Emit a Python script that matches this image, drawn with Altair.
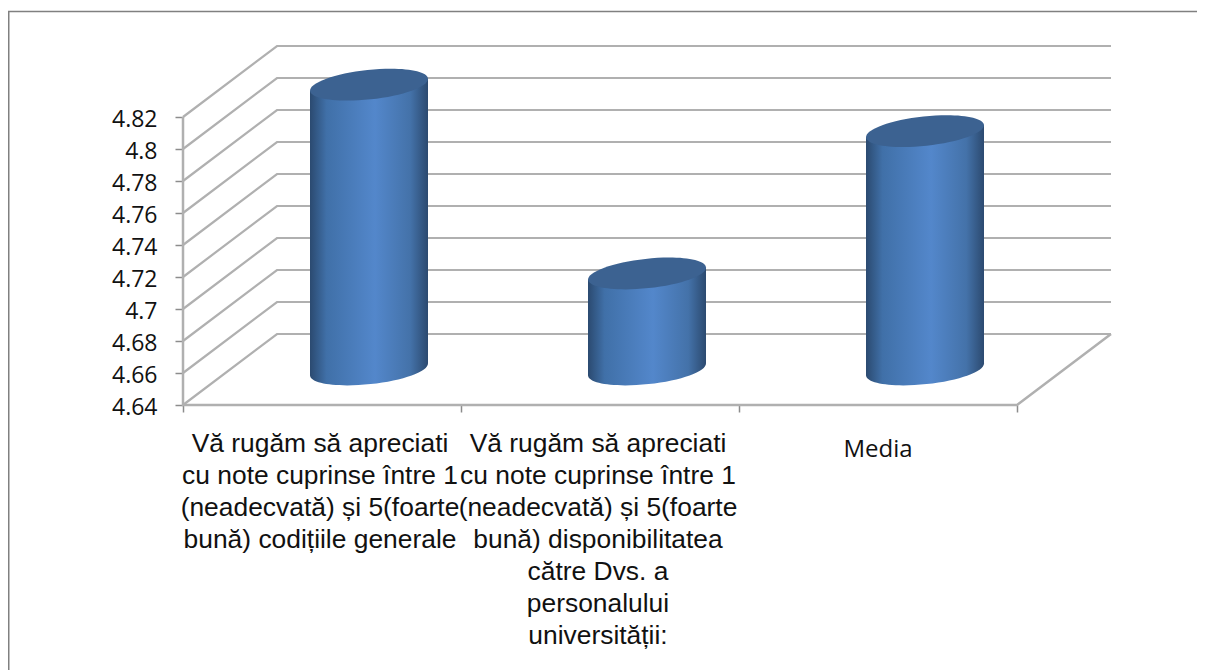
import altair as alt
import pandas as pd

# ---- data
categories = [
    "Vă rugăm să apreciati\ncu note cuprinse între 1\n(neadecvată) și 5(foarte\nbună) codițiile generale",
    "Vă rugăm să apreciati\ncu note cuprinse între 1\n(neadecvată) și 5(foarte\nbună) disponibilitatea\ncătre Dvs. a\npersonalului\nuniversității:",
    "Media",
]
values = [4.818, 4.70, 4.789]
tick_values = [4.64, 4.66, 4.68, 4.70, 4.72, 4.74, 4.76, 4.78, 4.80, 4.82]
category_edges = [0, 1, 2, 3]

# ---- drawing constants
W, H = 1189, 662
BASE = 4.64
PX_X = 278.0           # pixels per category
PX_Y = 1600.0          # pixels per value unit
X0_PX, Y0_PX = 175.0, 397.0
DX = 94.0 / PX_X       # depth offset in x units
DY = 71.0 / PX_Y       # depth offset in value units
HALF_W = 59.0 / PX_X
TILT = 6.0 / PX_Y

x_scale = alt.Scale(domain=[-X0_PX / PX_X, (W - X0_PX) / PX_X], nice=False, zero=False)
y_scale = alt.Scale(domain=[BASE - (H - Y0_PX) / PX_Y, BASE + Y0_PX / PX_Y], nice=False, zero=False)
X = alt.X("x:Q", scale=x_scale)
Y = alt.Y("y:Q", scale=y_scale)
GRID = "#b0b0b0"

# real axes placed on the front edge (first layer, so its axes are the ones kept)
axis_base = alt.Chart(pd.DataFrame({"x": [0.0], "y": [BASE]})).mark_point(opacity=0).encode(
    x=alt.X("x:Q", scale=x_scale, axis=alt.Axis(
        values=category_edges, labels=False, domain=False, grid=False, title=None,
        orient="bottom", offset=-(H - Y0_PX), tickSize=7, tickColor="#8c8c8c", tickWidth=1.5)),
    y=alt.Y("y:Q", scale=y_scale, axis=alt.Axis(
        values=tick_values, format="~g", domain=False, grid=False, title=None,
        orient="left", offset=-X0_PX, tickSize=8, tickColor="#8c8c8c", tickWidth=1.5,
        labelFont="Open Sans", labelFontSize=23, labelColor="#111111", labelPadding=18, labelOffset=2)),
)

# wall / back grid lines
grid_rows = []
for v in tick_values:
    grid_rows += [
        {"g": v, "o": 0, "x": 0, "y": v},
        {"g": v, "o": 1, "x": DX, "y": v + DY},
        {"g": v, "o": 2, "x": 3 + DX, "y": v + DY},
    ]
grid = alt.Chart(pd.DataFrame(grid_rows)).mark_line(color=GRID, strokeWidth=2.2).encode(
    x=X, y=Y, detail="g:N", order="o:Q")

# frame of the floor and the front wall edge
frame_rows = [
    {"x": 0, "y": tick_values[-1]},
    {"x": 0, "y": BASE},
    {"x": 3, "y": BASE},
    {"x": 3 + DX, "y": BASE + DY},
]
frame_df = pd.DataFrame(frame_rows)
frame_df["o"] = range(len(frame_df))
frame = alt.Chart(frame_df).mark_line(color=GRID, strokeWidth=2.5).encode(x=X, y=Y, order="o:Q")

# cylinders
BODY = alt.Gradient(
    gradient="linear", x1=0, y1=0, x2=1, y2=0,
    stops=[
        alt.GradientStop(offset=0, color="#2b4a70"),
        alt.GradientStop(offset=0.14, color="#4070a8"),
        alt.GradientStop(offset=0.55, color="#5387cb"),
        alt.GradientStop(offset=0.85, color="#4472a9"),
        alt.GradientStop(offset=1, color="#2c4a70"),
    ],
)
ELLIPSE = "M -0.9993 0.1068 A 1.005 0.25 -6.1 0 1 0.9993 -0.1068 A 1.005 0.25 -6.1 0 1 -0.9993 0.1068 Z"
SIZE = 118 ** 2

cx = [i + 0.5 + DX / 2 for i in range(len(values))]
tops = pd.DataFrame({"x": cx, "y": [v + DY / 2 for v in values]})
bottoms = pd.DataFrame({"x": cx, "y": [BASE + DY / 2] * len(values)})

bottom_caps = alt.Chart(bottoms).mark_point(
    shape=ELLIPSE, size=SIZE, filled=True, fill=BODY, opacity=1, strokeWidth=0
).encode(x=X, y=Y)

body_rows = []
for i, (c, v) in enumerate(zip(cx, values)):
    body_rows += [
        {"c": i, "x": c - HALF_W, "y": BASE + DY / 2 - TILT, "y2": v + DY / 2 - TILT},
        {"c": i, "x": c + HALF_W, "y": BASE + DY / 2 + TILT, "y2": v + DY / 2 + TILT},
    ]
bodies = alt.Chart(pd.DataFrame(body_rows)).mark_area(fill=BODY, opacity=1, line=False).encode(
    x=X, y=Y, y2="y2:Q", detail="c:N")

top_caps = alt.Chart(tops).mark_point(
    shape=ELLIPSE, size=SIZE, filled=True, fill="#3c6291", opacity=1, strokeWidth=0
).encode(x=X, y=Y)

# category labels
label_df = pd.DataFrame({"x": [i + 0.5 for i in range(3)], "t": categories})
labels_a = alt.Chart(label_df.iloc[:2]).mark_text(
    font="Liberation Sans", fontSize=26.4, lineBreak="\n", lineHeight=32,
    align="center", baseline="top", color="#111111", dx=-2
).encode(x=X, y=alt.value(423), text="t:N")
labels_b = alt.Chart(label_df.iloc[2:]).mark_text(
    font="Open Sans", fontSize=24, align="center", baseline="top", color="#111111"
).encode(x=X, y=alt.value(430), text="t:N")

# outer picture border
border_top = alt.Chart(pd.DataFrame({"a": [0]})).mark_rule(color="#808080", strokeWidth=1.5).encode(
    x=alt.value(0), x2=alt.value(W), y=alt.value(3.5))
border_left = alt.Chart(pd.DataFrame({"a": [0]})).mark_rule(color="#808080", strokeWidth=2).encode(
    x=alt.value(0.5), y=alt.value(3), y2=alt.value(H))

chart = alt.layer(
    axis_base, border_top, border_left, grid, frame, bottom_caps, bodies, top_caps, labels_a, labels_b
).properties(
    width=W, height=H, padding=0, autosize=alt.AutoSizeParams(type="none"), background="white"
).configure_view(stroke=None)

chart.save("out.html", embed_options={"renderer": "svg", "actions": False})
